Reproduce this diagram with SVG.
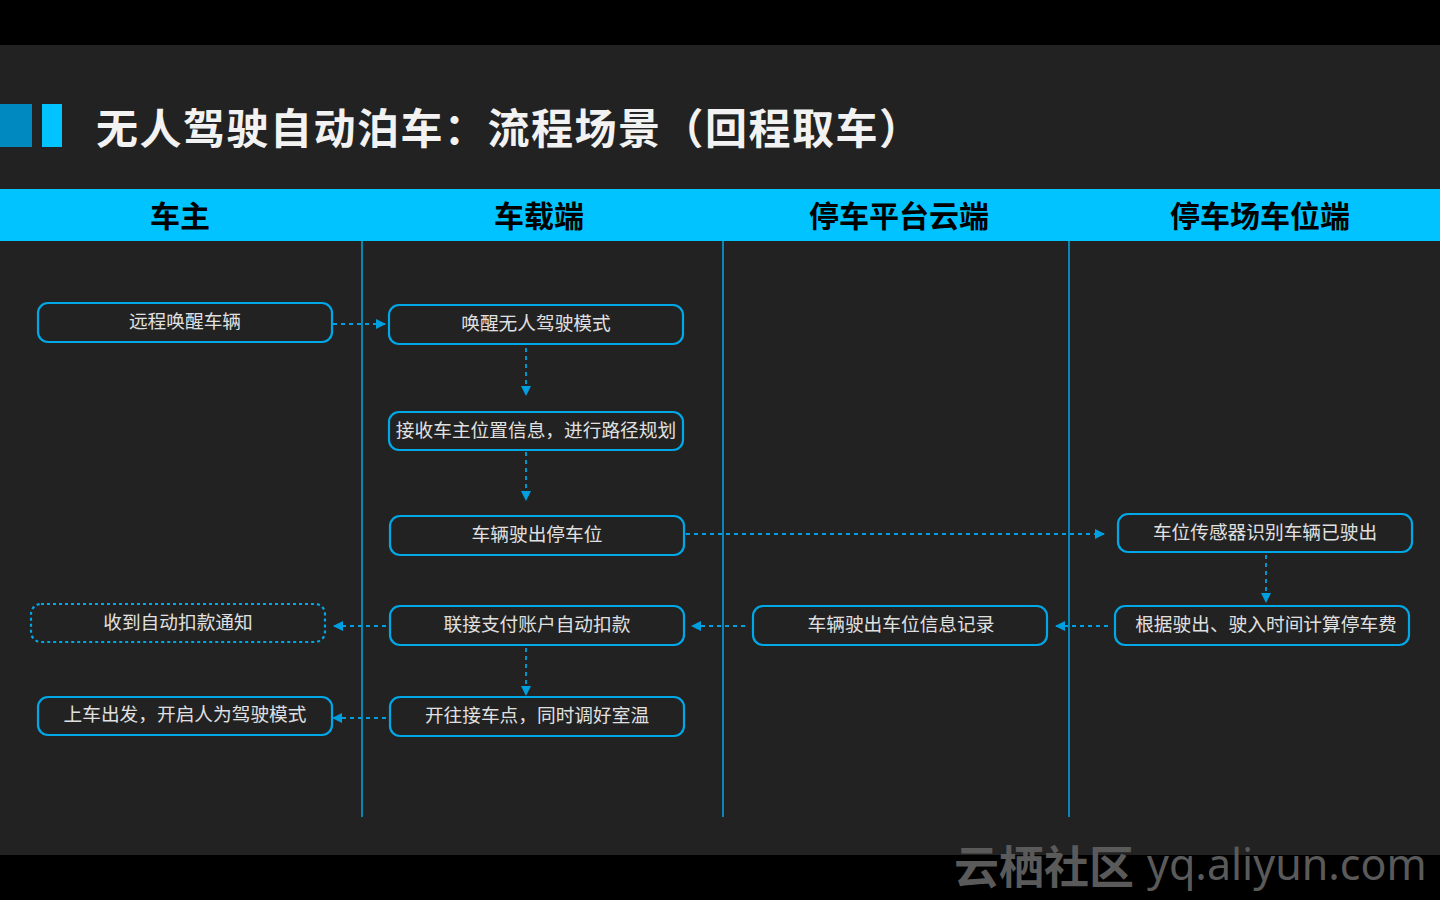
<svg xmlns="http://www.w3.org/2000/svg" width="1440" height="900" viewBox="0 0 1440 900">
<style>
.box{fill:#222222;stroke:#00A8E8;stroke-width:2.2}
.dot{stroke-dasharray:3 3}
.t{font-family:"Noto Sans CJK SC","Noto Sans",sans-serif;font-size:18.7px;fill:#E0E0E0;text-anchor:middle}
.h{font-family:"Noto Sans CJK SC",sans-serif;font-size:30px;font-weight:bold;fill:#000;text-anchor:middle}
.c{stroke:#00A0E0;stroke-width:1.8;stroke-dasharray:4 4;fill:none}
.lane{stroke:#00A8E8;stroke-width:1.5}
</style>
<defs>
<marker id="ah" viewBox="0 0 10 10" refX="9" refY="5" markerWidth="10" markerHeight="10" markerUnits="userSpaceOnUse" orient="auto">
<path d="M0,0 L10,5 L0,10 Z" fill="#00A0E0"/>
</marker>
</defs>
<rect x="0" y="0" width="1440" height="900" fill="#222222"/>
<rect x="0" y="0" width="1440" height="45" fill="#000"/>
<rect x="0" y="855" width="1440" height="45" fill="#000"/>
<rect x="0" y="104" width="32" height="43" fill="#0088C0"/>
<rect x="42" y="104" width="20" height="43" fill="#00C3FF"/>
<text x="96" y="144" font-family="Noto Sans CJK SC,sans-serif" font-size="42" font-weight="bold" fill="#F2F2F2" letter-spacing="1.5">无人驾驶自动泊车：流程场景（回程取车）</text>
<rect x="0" y="189" width="1440" height="52" fill="#00C3FF"/>
<text class="h" x="180" y="227">车主</text>
<text class="h" x="539" y="227">车载端</text>
<text class="h" x="899" y="227">停车平台云端</text>
<text class="h" x="1260" y="227">停车场车位端</text>
<g id="lanes">
<line class="lane" x1="362" y1="241" x2="362" y2="817"/>
<line class="lane" x1="723" y1="241" x2="723" y2="817"/>
<line class="lane" x1="1069" y1="241" x2="1069" y2="817"/>
</g>
<g id="connectors">
<line class="c" x1="333" y1="324" x2="385" y2="324" marker-end="url(#ah)"/>
<line class="c" x1="526" y1="348" x2="526" y2="395" marker-end="url(#ah)"/>
<line class="c" x1="526" y1="452" x2="526" y2="500" marker-end="url(#ah)"/>
<line class="c" x1="686" y1="534" x2="1104" y2="534" marker-end="url(#ah)"/>
<line class="c" x1="1266" y1="555" x2="1266" y2="602" marker-end="url(#ah)"/>
<line class="c" x1="1108" y1="626" x2="1056" y2="626" marker-end="url(#ah)"/>
<line class="c" x1="745" y1="626" x2="692" y2="626" marker-end="url(#ah)"/>
<line class="c" x1="386" y1="626" x2="334" y2="626" marker-end="url(#ah)"/>
<line class="c" x1="526" y1="648" x2="526" y2="695" marker-end="url(#ah)"/>
<line class="c" x1="386" y1="718" x2="333" y2="718" marker-end="url(#ah)"/>
</g>
<g id="n1"><rect class="box" x="38" y="303" width="294" height="39" rx="10"/><text class="t" x="185" y="328">远程唤醒车辆</text></g>
<g id="n2"><rect class="box" x="389" y="305" width="294" height="39" rx="10"/><text class="t" x="536" y="330">唤醒无人驾驶模式</text></g>
<g id="n3"><rect class="box" x="389" y="412" width="294" height="38" rx="10"/><text class="t" x="536" y="437">接收车主位置信息，进行路径规划</text></g>
<g id="n4"><rect class="box" x="390" y="516" width="294" height="39" rx="10"/><text class="t" x="537" y="541">车辆驶出停车位</text></g>
<g id="n5"><rect class="box" x="1118" y="514" width="294" height="38" rx="10"/><text class="t" x="1265" y="539">车位传感器识别车辆已驶出</text></g>
<g id="n6"><rect class="box" x="1115" y="606" width="294" height="39" rx="10"/><text class="t" x="1266" y="631">根据驶出、驶入时间计算停车费</text></g>
<g id="n7"><rect class="box" x="753" y="606" width="294" height="39" rx="10"/><text class="t" x="901" y="631">车辆驶出车位信息记录</text></g>
<g id="n8"><rect class="box" x="390" y="606" width="294" height="39" rx="10"/><text class="t" x="537" y="631">联接支付账户自动扣款</text></g>
<g id="n9"><rect class="box dot" x="31" y="604" width="294" height="38" rx="10"/><text class="t" x="178" y="629">收到自动扣款通知</text></g>
<g id="n10"><rect class="box" x="390" y="697" width="294" height="39" rx="10"/><text class="t" x="537" y="722">开往接车点，同时调好室温</text></g>
<g id="n11"><rect class="box" x="38" y="697" width="294" height="38" rx="10"/><text class="t" x="185" y="721">上车出发，开启人为驾驶模式</text></g>
<text x="954" y="884" font-family="Noto Sans CJK SC,sans-serif" font-size="45" font-weight="bold" fill="#5A5A5A">云栖社区</text>
<text x="1147" y="880" font-family="Noto Sans,sans-serif" font-size="43" fill="#5A5A5A">yq.aliyun.com</text>
</svg>
